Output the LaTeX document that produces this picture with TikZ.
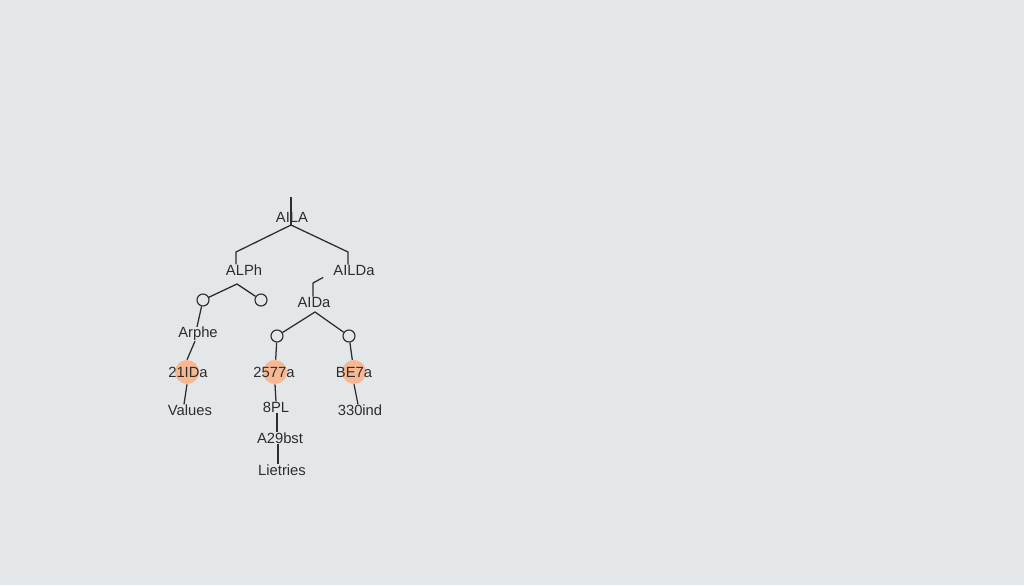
\documentclass[tikz,border=0pt]{standalone}
\usepackage{fontspec}
\setmainfont{Liberation Sans}
\usetikzlibrary{calc}
\usetikzlibrary{positioning}

\definecolor{bgcol}{RGB}{227,231,234}
\definecolor{inkcol}{RGB}{45,45,45}
\definecolor{peach}{RGB}{246,184,146}

\tikzset{
  lbl/.style={inner sep=0pt, font=\fontsize{10.5}{12}\selectfont, text=inkcol},
  ring/.style={circle, draw=inkcol, line width=0.8pt, minimum size=0.3cm, inner sep=0pt},
  dot/.style={circle, fill=peach, minimum size=0.6cm, inner sep=0pt},
  wire/.style={draw=inkcol, line width=0.9pt}
}

\begin{document}
\begin{tikzpicture}[x=0.025cm,y=-0.025cm]

    \fill[bgcol] (0,0) rectangle (1024,585);
    \useasboundingbox (0,0) rectangle (1024,585);

    % root
    \coordinate (top) at (291,197);
    \coordinate (root) at (291,225);
    \node[lbl] (alla) at (292,217) {AILA};
    \draw[wire] (top) -- (root);

    \coordinate (lelb) at (236,252);
    \coordinate (relb) at (348,252);
    \node[lbl] (alph) at (244,270) {ALPh};
    \node[lbl] (aildb) at (354,270) {AILDa};
    \draw[wire] (root) -- (lelb) -- (lelb |- alph.north);
    \draw[wire] (root) -- (relb) -- (relb |- aildb.north);

    % left branch
    \coordinate (lpeak) at (237,284);
    \node[ring] (ringa) at (203,300) {};
    \node[ring] (ringb) at (261,300) {};
    \draw[wire] (ringa) -- (lpeak) -- (ringb);

    \node[lbl] (arphe) at (198,334) {Arphe};
    \draw[wire] (ringa) -- (arphe.north -| 197,0);

    \node[dot] (dota) at (187,372) {};
    \node[lbl] (idx) at (188,372) {21IDa};
    \draw[wire] (arphe.south -| 195,0) -- (dota.north);

    \node[lbl] (vals) at (190,410) {Values};
    \draw[wire] (dota.south) -- (vals.north -| 184,0);

    % right branch
    \node[lbl] (aida) at (314,302) {AIDa};
    \coordinate (hook) at (313,283);
    \draw[wire] (aildb.south west)++(-10,2) -- (hook) -- (hook |- aida.north);

    \coordinate (rpeak) at (315,312);
    \node[ring] (ringc) at (277,336) {};
    \node[ring] (ringd) at (349,336) {};
    \draw[wire] (ringc) -- (rpeak) -- (ringd);

    \node[dot] (dotb) at (275,372) {};
    \node[lbl] (num) at (274,372) {2577a};
    \draw[wire] (ringc) -- (dotb);

    \node[dot] (dotc) at (354,372) {};
    \node[lbl] (bee) at (354,372) {BE7a};
    \draw[wire] (ringd) -- (dotc);

    \node[lbl] (epl) at (276,407) {8PL};
    \draw[wire] (dotb.south) -- (epl.north);

    \node[lbl] (abst) at (280,438) {A29bst};
    \draw[wire] (epl.south -| 277,0) -- (abst.north -| 277,0);

    \node[lbl] (lies) at (282,470) {Lietries};
    \draw[wire] (abst.south -| 278,0) -- (lies.north -| 278,0);

    \node[lbl] (ind) at (360,410) {330ind};
    \draw[wire] (dotc.south) -- (ind.north -| 358,0);

\end{tikzpicture}
\end{document}
